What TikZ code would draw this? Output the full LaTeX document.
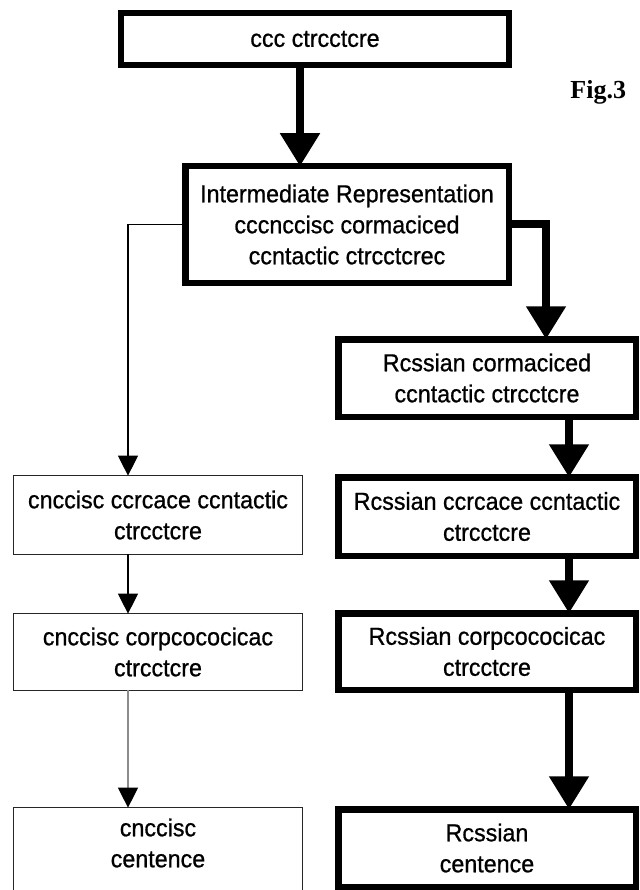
\documentclass[tikz,border=0pt]{standalone}
\usepackage{fontspec}
\setmainfont{Liberation Sans}
\newfontfamily\boxfont{Liberation Sans}[FakeBold=0.8,FakeStretch=0.95]
\newfontfamily\figfont{Liberation Serif}
\usetikzlibrary{arrows.meta}
\begin{document}
\begin{tikzpicture}[x=1pt,y=-1pt,
  every node/.style={inner sep=0pt, outer sep=0pt},
  txt/.style={font=\boxfont\fontsize{24.5}{31}\selectfont, align=center},
  thickbox/.style={draw, line width=6.5pt, txt},
  thinbox/.style={draw=black!85, line width=1.3pt, txt},
  bigarrow/.style={line width=8pt, -{Triangle[width=38pt,length=33pt]}},
  smallarrow/.style={line width=1.2pt, -{Triangle[width=20pt,length=20pt]}},
  greyarrow/.style={smallarrow, draw=black!45, -{Triangle[width=20pt,length=20pt,fill=black,color=black]}}]
\useasboundingbox (0,0) rectangle (639,890);
\clip (0,0) rectangle (639,890);
\fill[white] (0,0) rectangle (639,890);

% top box
\node[draw, line width=6pt, txt, minimum width=388pt, minimum height=52pt] (top) at (315,39) {ccc ctrcctcre};
% intermediate representation
\node[thickbox, minimum width=323.5pt, minimum height=116.5pt] (ir) at (347,224.5)
  {Intermediate Representation\\cccnccisc cormaciced\\ccntactic ctrcctcrec};
% figure label
\node[font=\figfont\bfseries\fontsize{26}{30}\selectfont, anchor=east] (fig) at (626,92) {Fig.3};

% right column
\node[thickbox, minimum width=297.5pt, minimum height=77.5pt] (r1) at (487,378) {Rcssian cormaciced\\ccntactic ctrcctcre};
\node[thickbox, minimum width=297.5pt, minimum height=78.5pt] (r2) at (487,516.5) {Rcssian ccrcace ccntactic\\ctrcctcre};
\node[thickbox, minimum width=297.5pt, minimum height=76.5pt] (r3) at (487,651.5) {Rcssian corpcococicac\\ctrcctcre};
\node[thickbox, minimum width=297.5pt, minimum height=77.5pt] (r4) at (487,848) {Rcssian\\centence};

% left column
\node[thinbox, minimum width=288.7pt, minimum height=78.7pt] (l1) at (158,515) {cnccisc ccrcace ccntactic\\ctrcctcre};
\node[thinbox, minimum width=288.7pt, minimum height=76.7pt] (l2) at (158,652) {cnccisc corpcococicac\\ctrcctcre};
\node[thinbox, minimum width=288.7pt, minimum height=91.7pt] (l3) at (158,853.5) {};
\node[txt] (l3t) at (158,843) {cnccisc\\centence};

% connector columns
\coordinate (ca) at (300,0);
\coordinate (cr) at (546,0);
\coordinate (cl) at (128,0);
\coordinate (cr2) at (569,0);

\draw[bigarrow] (top.south -| ca) -- (ir.north -| ca);
\draw[bigarrow] (ir.east) -- (ir.east -| cr) -- (r1.north -| cr);
\draw[smallarrow] (ir.west) -- (ir.west -| cl) -- (l1.north -| cl);

\draw[bigarrow] (r1.south -| cr2) -- (r2.north -| cr2);
\draw[bigarrow] (r2.south -| cr2) -- (r3.north -| cr2);
\draw[bigarrow] (r3.south -| cr2) -- (r4.north -| cr2);

\draw[smallarrow] (l1.south -| cl) -- (l2.north -| cl);
\draw[greyarrow] (l2.south -| cl) -- (l3.north -| cl);
\end{tikzpicture}
\end{document}
